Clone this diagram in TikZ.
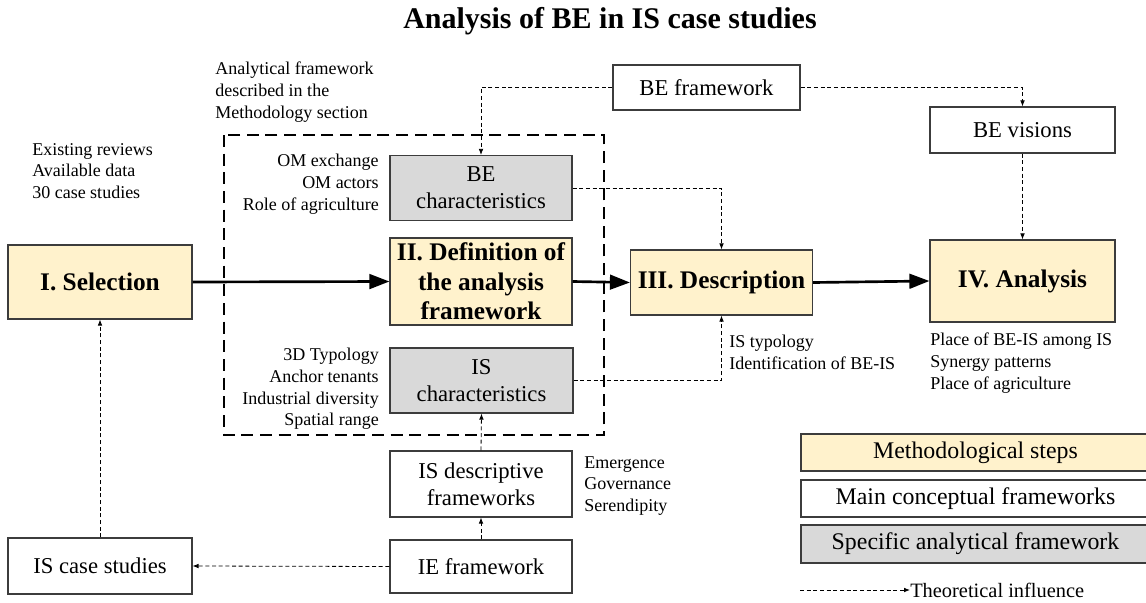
\documentclass[tikz,border=0pt]{standalone}
\usepackage{fontspec}
\setmainfont{Liberation Serif}
\usetikzlibrary{positioning, arrows.meta}
\definecolor{stepfill}{RGB}{255,242,204}
\definecolor{charfill}{RGB}{217,217,217}
\definecolor{edgegray}{RGB}{60,60,60}

\begin{document}
\begin{tikzpicture}[x=0.75pt,y=0.75pt,yscale=-1,xscale=1,
  stepbox/.style={draw=edgegray, fill=stepfill, line width=0.9pt, align=center, inner sep=0pt,
    font=\fontsize{19}{22}\selectfont\bfseries},
  mainbox/.style={draw=edgegray, fill=white, line width=0.9pt, align=center, inner sep=0pt,
    font=\fontsize{17}{20}\selectfont},
  charbox/.style={mainbox, fill=charfill},
  legbox/.style={mainbox, minimum width=261.75pt, font=\fontsize{17.9}{20}\selectfont},
  notes/.style={inner sep=0pt, font=\fontsize{13.5}{16.3}\selectfont},
  influence/.style={dashed, dash pattern=on 3pt off 2pt, line width=0.6pt, -{Latex[length=4.5pt,width=3.5pt]}},
  mainflow/.style={line width=2pt, -{Triangle[length=15pt,width=11pt]}}
]
\useasboundingbox (0,0) rectangle (1146,603);

% Title
\node (title) at (610,21) {\fontsize{22.5}{25}\selectfont\bfseries Analysis of BE in IS case studies};

% Dashed frame of the analytical framework
\draw [line width=2.2pt, dash pattern=on 9pt off 5pt] (224,135) rectangle (604,435);

% Methodological steps
\node [stepbox, minimum width=138pt, minimum height=55.5pt] (selection) at (100,282) {I. Selection};
\node [stepbox, minimum width=136.5pt, minimum height=65.25pt] (definition) at (481,281.5) {II. Definition of\\the analysis\\framework};
\node [stepbox, minimum width=136.5pt, minimum height=48.75pt] (description) at (721.5,282.5) {III. Description};
\node [stepbox, minimum width=138.75pt, minimum height=61.5pt] (analysis) at (1022.5,281) {IV. Analysis};

% Analytical framework
\node [charbox, minimum width=136.5pt, minimum height=48.75pt] (bechar) at (481,188) {BE\\characteristics};
\node [charbox, minimum width=137.25pt, minimum height=48.75pt] (ischar) at (481.5,380.5) {IS\\characteristics};

% Conceptual frameworks
\node [mainbox, minimum width=140.25pt, minimum height=33.75pt] (beframe) at (706.5,87.5) {BE framework};
\node [mainbox, minimum width=138.75pt, minimum height=34.5pt] (bevisions) at (1022.5,130) {BE visions};
\node [mainbox, minimum width=136.5pt, minimum height=49.5pt] (isdesc) at (481,484) {IS descriptive\\frameworks};
\node [mainbox, minimum width=136.5pt, minimum height=39.75pt] (ieframe) at (481,566.5) {IE framework};
\node [mainbox, minimum width=138pt, minimum height=42pt] (iscases) at (100,566) {IS case studies};

% Main flow
\draw [mainflow] (selection.east) -- (definition.west);
\draw [mainflow] (definition.east) -- (description.west);
\draw [mainflow] (description.east) -- (analysis.west);

% Theoretical influences
\draw [influence] (beframe.west) -| (bechar.north);
\draw [influence] (beframe.east) -| (bevisions.north);
\draw [influence] (bevisions.south) -- (analysis.north);
\draw [influence] (bechar.east) -| (description.north);
\draw [influence] (ischar.east) -| (description.south);
\draw [influence] (isdesc.north) -- (ischar.south);
\draw [influence] (ieframe.north) -- (isdesc.south);
\draw [influence] (ieframe.west) -- (iscases.east);
\draw [influence] (iscases.north) -- (selection.south);

% Text Nodes
\node [notes, anchor=north west, align=left] (methnote) at (215,62) {Analytical framework\\described in the\\Methodology section};
\node [notes, anchor=north west, align=left] (selnote) at (32,143) {Existing reviews\\Available data\\30 case studies};
\node [notes, anchor=east, align=right] (benote) at (379,184) {OM exchange\\OM actors\\Role of agriculture};
\node [notes, anchor=east, align=right] (isnote) at (379,389) {3D Typology\\Anchor tenants\\Industrial diversity\\Spatial range};
\node [notes, anchor=north west, align=left] (descnote) at (729,335) {IS typology\\Identification of BE-IS};
\node [notes, anchor=north west, align=left] (ananote) at (930,333) {Place of BE-IS among IS\\Synergy patterns\\Place of agriculture};
\node [notes, anchor=north west, align=left] (isdescnote) at (584,456) {Emergence\\Governance\\Serendipity};

% Legend
\node [legbox, fill=stepfill, minimum height=27.75pt] (legstep) at (975.5,452.5) {Methodological steps};
\node [legbox, minimum height=27.75pt] (legmain) at (975.5,498.5) {Main conceptual frameworks};
\node [legbox, fill=charfill, minimum height=28.5pt] (legspec) at (975.5,544) {Specific analytical framework};
\node [notes, anchor=west, font=\fontsize{15.3}{18}\selectfont] (legtext) at (910,590) {Theoretical influence};
\coordinate (legstart) at (800,590);
\draw [influence] (legstart) -- (legtext.west);

\end{tikzpicture}
\end{document}
